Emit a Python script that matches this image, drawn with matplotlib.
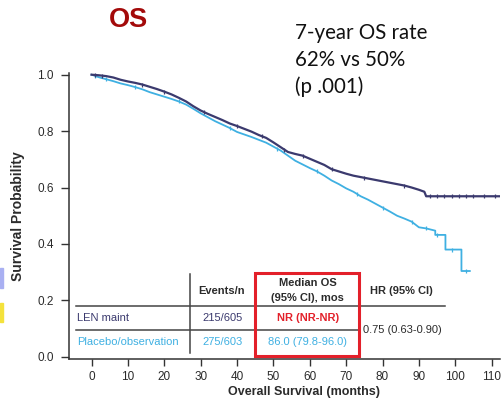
import numpy as np
import matplotlib
matplotlib.use('Agg')
import matplotlib.pyplot as plt
from matplotlib.patches import Rectangle

# Kaplan-Meier estimates read at ~2 month steps (months, survival probability);
# repeated months mark the larger visible drops
len_months = [0, 2, 4, 6, 8, 10, 12, 14, 16, 18, 20, 22, 24, 26, 28, 30, 32, 34,
              36, 38, 40, 42, 44, 46, 48, 50, 52, 54, 56, 58, 60, 62, 64, 66, 68,
              70, 72, 74, 76, 78, 80, 82, 84, 86, 88, 90, 91.5, 92, 112.3]
len_surv = [1.0, 0.998, 0.995, 0.99, 0.982, 0.976, 0.971, 0.965, 0.957, 0.949,
            0.940, 0.930, 0.918, 0.905, 0.888, 0.873, 0.861, 0.850, 0.839, 0.827,
            0.818, 0.808, 0.798, 0.786, 0.776, 0.760, 0.743, 0.726, 0.719, 0.713,
            0.702, 0.691, 0.680, 0.665, 0.657, 0.649, 0.642, 0.637, 0.632, 0.627,
            0.622, 0.617, 0.612, 0.607, 0.600, 0.592, 0.585, 0.569, 0.569]

pbo_months = [0, 2, 4, 6, 8, 10, 12, 14, 16, 18, 20, 22, 24, 26, 28, 30, 32, 34,
              36, 38, 40, 42, 44, 46, 48, 50, 52, 54, 56, 58, 60, 62, 64, 66, 68,
              70, 72, 74, 76, 78, 80, 82, 84, 86, 88, 90, 92, 94.5, 94.5, 97.3,
              97.3, 101.7, 101.7, 104]
pbo_surv = [1.0, 0.991, 0.984, 0.977, 0.969, 0.963, 0.956, 0.948, 0.938, 0.930,
            0.922, 0.914, 0.905, 0.894, 0.879, 0.863, 0.849, 0.835, 0.823, 0.811,
            0.797, 0.788, 0.779, 0.769, 0.759, 0.745, 0.731, 0.713, 0.695, 0.682,
            0.669, 0.657, 0.642, 0.625, 0.612, 0.597, 0.585, 0.569, 0.557, 0.543,
            0.529, 0.515, 0.500, 0.490, 0.479, 0.459, 0.455, 0.447, 0.432, 0.432,
            0.380, 0.380, 0.304, 0.304]

# censored observations (months)
len_censor = [1, 3, 14, 20, 31, 40, 47, 53, 58, 66, 75, 86, 93, 95, 97, 99, 101,
              103, 105, 108, 111]
pbo_censor = [1, 4, 12, 24, 38, 51, 62, 73, 80, 88, 92, 95, 99, 103]

x_ticks = [0, 10, 20, 30, 40, 50, 60, 70, 80, 90, 100, 110]
y_ticks = [0.0, 0.2, 0.4, 0.6, 0.8, 1.0]

table_rows = ['LEN maint', 'Placebo/observation']
events = ['215/605', '275/603']
median_os = ['NR (NR-NR)', '86.0 (79.8-96.0)']
hr_text = '0.75 (0.63-0.90)'

navy = '#3b3a6e'
cyan = '#3fb0e2'
red = '#e3202a'
dark = '#2b2b2b'

plt.rcParams['font.family'] = ['Liberation Sans', 'DejaVu Sans']

fig = plt.figure(figsize=(5.01, 3.99), dpi=100)
ax = fig.add_axes([69 / 501, 39.7 / 399, 431 / 501, 286.3 / 399])

ax.plot(len_months, len_surv, color=navy, lw=1.6, zorder=3)
ax.plot(pbo_months, pbo_surv, color=cyan, lw=1.3, zorder=2)


def at(months, surv, t):
    return np.interp(t, months, surv)


ax.plot(len_censor, [at(len_months, len_surv, t) for t in len_censor],
        ls='none', marker='|', ms=3.5, mew=0.9, color=navy, zorder=3)
ax.plot(pbo_censor, [at(pbo_months, pbo_surv, t) for t in pbo_censor],
        ls='none', marker='|', ms=3.5, mew=0.9, color=cyan, zorder=2)

ax.set_xlim(-6.2, 112.3)
ax.set_ylim(-0.009, 1.006)
ax.set_xticks(x_ticks)
ax.set_yticks(y_ticks)
ax.set_yticklabels([f'{v:.1f}' for v in y_ticks])
ax.tick_params(axis='both', colors='#333333', labelcolor=dark, labelsize=8.5,
               length=5, width=1.0, pad=3.5)
ax.tick_params(axis='y', length=6, pad=5)
for side in ('top', 'right'):
    ax.spines[side].set_visible(False)
for side in ('left', 'bottom'):
    ax.spines[side].set_color('#333333')
    ax.spines[side].set_linewidth(1.1)

ax.set_xlabel('Overall Survival (months)', fontsize=9, fontweight='bold',
              color=dark)
ax.xaxis.set_label_coords(0.545, -0.093)
ax.set_ylabel('Survival Probability', fontsize=10, fontweight='bold', color=dark)
ax.yaxis.set_label_coords(-0.102, 0.5)

# summary table inside the axes
ax.plot([27.0, 27.0], [0.013, 0.294], color='#444444', lw=1.1)
ax.plot([-4.3, 97.2], [0.181, 0.181], color='#444444', lw=1.1)
ax.plot([-4.3, 73.8], [0.095, 0.095], color='#444444', lw=1.1)
ax.add_patch(Rectangle((45.0, 0.001), 28.6, 0.297, fill=False, ec=red, lw=2.2,
                       zorder=4))

fs = 8.0
ax.text(35.7, 0.233, 'Events/n', ha='center', va='center', fontsize=fs,
        fontweight='bold', color=dark)
ax.text(59.4, 0.261, 'Median OS', ha='center', va='center', fontsize=fs,
        fontweight='bold', color=dark)
ax.text(59.4, 0.207, '(95% CI), mos', ha='center', va='center', fontsize=fs,
        fontweight='bold', color=dark)
ax.text(85.3, 0.234, 'HR (95% CI)', ha='center', va='center', fontsize=fs,
        fontweight='bold', color=dark)

row_y = [0.136, 0.053]
row_colors = [navy, cyan]
for name, ev, yy, c in zip(table_rows, events, row_y, row_colors):
    ax.text(-4.1, yy, name, ha='left', va='center', fontsize=fs, color=c)
    ax.text(35.9, yy, ev, ha='center', va='center', fontsize=fs, color=c)
ax.text(59.4, row_y[0], median_os[0], ha='center', va='center', fontsize=fs,
        fontweight='bold', color=red)
ax.text(59.4, row_y[1], median_os[1], ha='center', va='center', fontsize=fs,
        color=cyan)
ax.text(85.5, 0.095, hr_text, ha='center', va='center', fontsize=fs, color=dark)

# slide headings
fig.text(128.3 / 501, 1 - 19.7 / 399, 'OS', ha='center', va='center',
         fontsize=19.5, fontweight='bold', color='#a30a0a')
note = ['7-year OS rate', '62% vs 50%', '(p .001)']
for i, line in enumerate(note):
    fig.text(295 / 501, 1 - (23 + 26.7 * i) / 399, line, ha='left', va='top',
             fontsize=14.8, color='#111111', family=['Lato', 'DejaVu Sans'])

# legend swatches cut at the slide edge
fig.patches.append(Rectangle((0, 1 - 288 / 399), 2.5 / 501, 20 / 399,
                             transform=fig.transFigure, color='#a9b0f2'))
fig.patches.append(Rectangle((0, 1 - 322 / 399), 2.5 / 501, 19 / 399,
                             transform=fig.transFigure, color='#f4e23c'))

fig.savefig('out.png', dpi=100)
